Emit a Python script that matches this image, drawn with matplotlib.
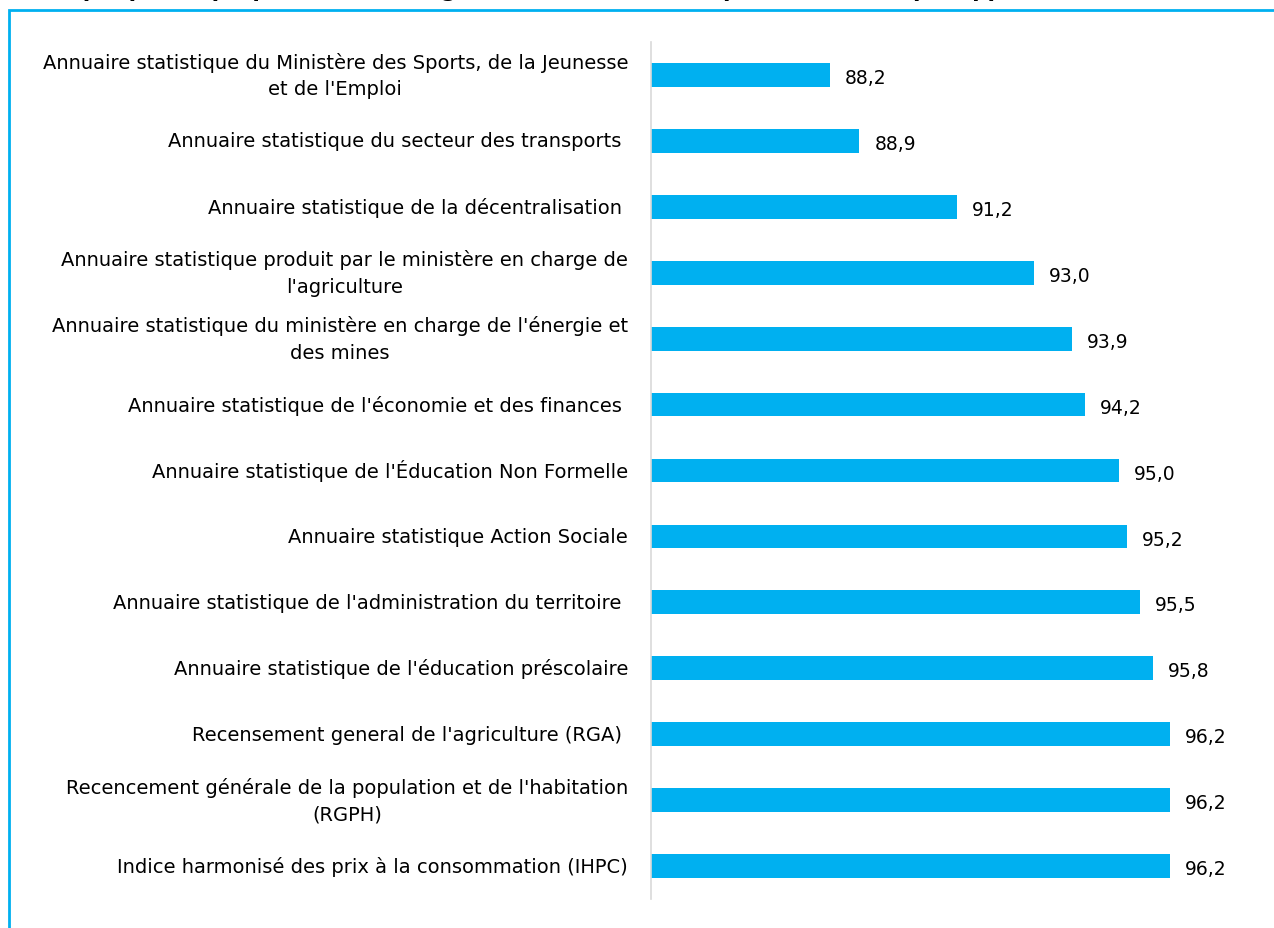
import matplotlib
matplotlib.use("Agg")
import matplotlib.pyplot as plt
from matplotlib.patches import Rectangle

categories = [
    "Annuaire statistique du Ministère des Sports, de la Jeunesse\net de l'Emploi",
    "Annuaire statistique du secteur des transports ",
    "Annuaire statistique de la décentralisation ",
    "Annuaire statistique produit par le ministère en charge de\nl'agriculture",
    "Annuaire statistique du ministère en charge de l'énergie et\ndes mines",
    "Annuaire statistique de l'économie et des finances ",
    "Annuaire statistique de l'Éducation Non Formelle",
    "Annuaire statistique Action Sociale",
    "Annuaire statistique de l'administration du territoire ",
    "Annuaire statistique de l'éducation préscolaire",
    "Recensement general de l'agriculture (RGA) ",
    "Recencement générale de la population et de l'habitation\n(RGPH)",
    "Indice harmonisé des prix à la consommation (IHPC)",
]
values = [88.2, 88.9, 91.2, 93.0, 93.9, 94.2, 95.0, 95.2, 95.5, 95.8, 96.2, 96.2, 96.2]
title = "Graphique 4 : proportion des usagers satisfaits selon le produit statistique apprécié (%)"

W, H = 1274, 929
plt.rcParams['font.family'] = ['DejaVu Sans']
fig = plt.figure(figsize=(W / 100, H / 100), dpi=100)

# frame
fig.patches.append(Rectangle((9 / W, -0.1), 1.2, (H - 11) / H + 0.1, transform=fig.transFigure,
                             fill=False, edgecolor='#00B0F0', linewidth=2))

# cut-off title
fig.text(40 / W, 1 + 3 / H, title, fontsize=15.5, fontweight='bold', ha='left', va='baseline')

ax = fig.add_axes([651 / W, (H - 900) / H, (W - 651) / W, (900 - 43) / H])
y = list(range(len(values)))
ax.barh(y, values, height=0.36, color='#00B0F0', left=0)
ax.set_xlim(84, 84 + (W - 651) / 42.5)
ax.set_ylim(len(values) - 0.5, -0.5)
for s in ['top', 'right', 'bottom']:
    ax.spines[s].set_visible(False)
ax.spines['left'].set_color('#D9D9D9')
ax.spines['left'].set_linewidth(1.2)
ax.set_xticks([])
ax.set_yticks(y)
ax.set_yticklabels(categories, fontsize=14, multialignment='center', linespacing=1.5)
for t in ax.get_yticklabels():
    t.set_verticalalignment('center')
ax.tick_params(axis='y', length=0, pad=16.5)
for yi, v in zip(y, values):
    ax.text(v + 0.36, yi + 0.04, f"{v:.1f}".replace('.', ','), va='center', ha='left', fontsize=13.5)
ax.patch.set_alpha(0)

fig.savefig("out.png", dpi=100)
